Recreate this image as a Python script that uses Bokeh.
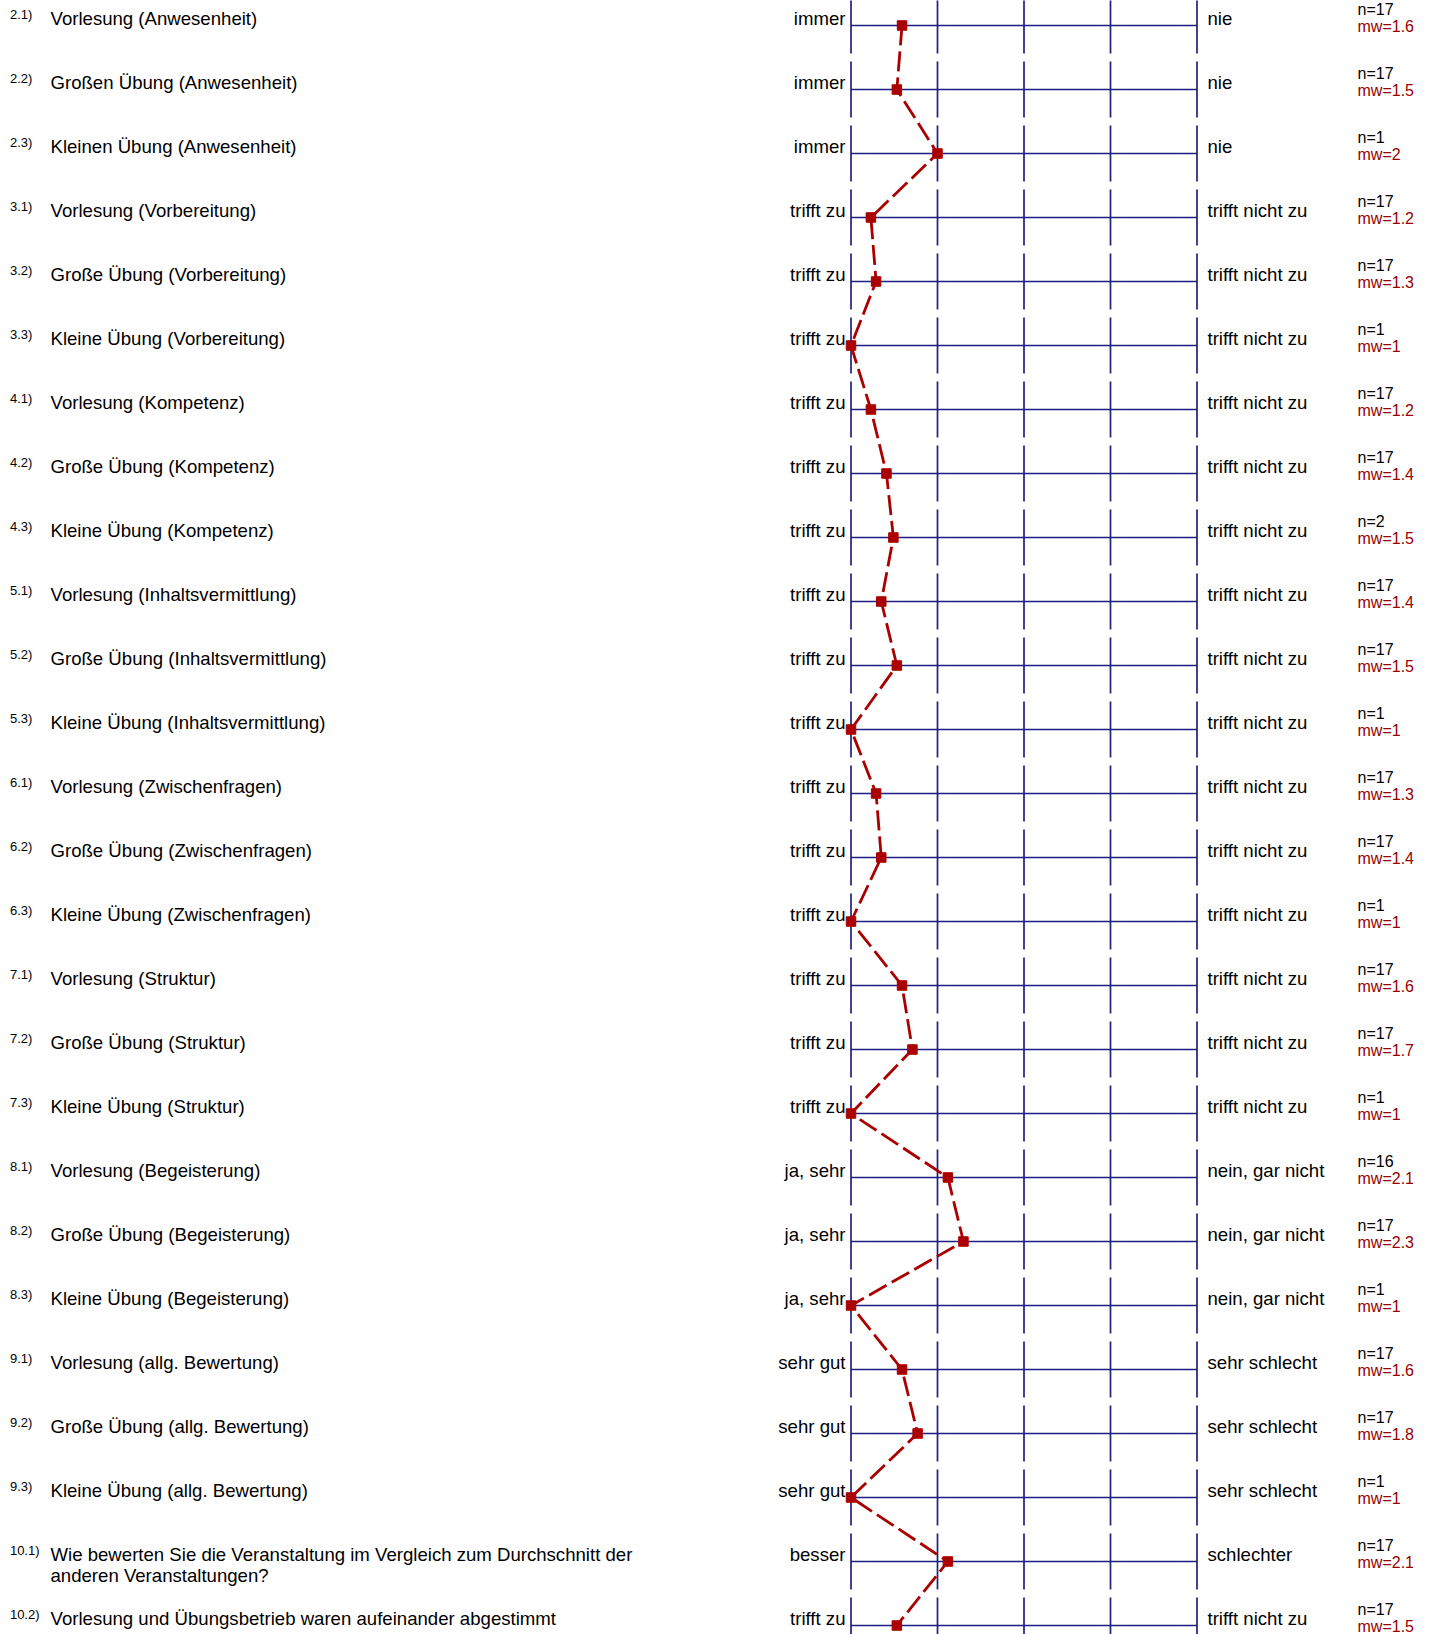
from bokeh.plotting import figure
from bokeh.models import Range1d, ColumnDataSource
from bokeh.core.properties import value
from bokeh.embed import file_html
from bokeh.resources import INLINE

numbers = ["2.1)", "2.2)", "2.3)", "3.1)", "3.2)", "3.3)", "4.1)", "4.2)", "4.3)",
           "5.1)", "5.2)", "5.3)", "6.1)", "6.2)", "6.3)", "7.1)", "7.2)", "7.3)",
           "8.1)", "8.2)", "8.3)", "9.1)", "9.2)", "9.3)", "10.1)", "10.2)"]
questions = [
    "Vorlesung (Anwesenheit)", "Großen Übung (Anwesenheit)", "Kleinen Übung (Anwesenheit)",
    "Vorlesung (Vorbereitung)", "Große Übung (Vorbereitung)", "Kleine Übung (Vorbereitung)",
    "Vorlesung (Kompetenz)", "Große Übung (Kompetenz)", "Kleine Übung (Kompetenz)",
    "Vorlesung (Inhaltsvermittlung)", "Große Übung (Inhaltsvermittlung)", "Kleine Übung (Inhaltsvermittlung)",
    "Vorlesung (Zwischenfragen)", "Große Übung (Zwischenfragen)", "Kleine Übung (Zwischenfragen)",
    "Vorlesung (Struktur)", "Große Übung (Struktur)", "Kleine Übung (Struktur)",
    "Vorlesung (Begeisterung)", "Große Übung (Begeisterung)", "Kleine Übung (Begeisterung)",
    "Vorlesung (allg. Bewertung)", "Große Übung (allg. Bewertung)", "Kleine Übung (allg. Bewertung)",
    "Wie bewerten Sie die Veranstaltung im Vergleich zum Durchschnitt der\nanderen Veranstaltungen?",
    "Vorlesung und Übungsbetrieb waren aufeinander abgestimmt",
]
left_labels = ["immer"] * 3 + ["trifft zu"] * 15 + ["ja, sehr"] * 3 + ["sehr gut"] * 3 + ["besser", "trifft zu"]
right_labels = ["nie"] * 3 + ["trifft nicht zu"] * 15 + ["nein, gar nicht"] * 3 + ["sehr schlecht"] * 3 + ["schlechter", "trifft nicht zu"]
n_values = [17, 17, 1, 17, 17, 1, 17, 17, 2, 17, 17, 1, 17, 17, 1, 17, 17, 1, 16, 17, 1, 17, 17, 1, 17, 17]
mw_labels = ["1.6", "1.5", "2", "1.2", "1.3", "1", "1.2", "1.4", "1.5", "1.4", "1.5", "1",
             "1.3", "1.4", "1", "1.6", "1.7", "1", "2.1", "2.3", "1", "1.6", "1.8", "1", "2.1", "1.5"]
means = [1.59, 1.53, 2.0, 1.23, 1.29, 1.0, 1.23, 1.41, 1.49, 1.35, 1.53, 1.0,
         1.29, 1.35, 1.0, 1.59, 1.71, 1.0, 2.12, 2.30, 1.0, 1.59, 1.77, 1.0, 2.12, 1.53]
scale_ticks = [1, 2, 3, 4, 5]

W, H = 1415, 1634
px_per_unit = 86.5
x_origin_px = 850.5          # pixel of value 1 inside the figure
row_px = 64.0
first_row_px = 25.0
x_start = 1 - x_origin_px / px_per_unit
x_end = x_start + W / px_per_unit
y_top = -first_row_px / row_px
y_bottom = y_top + H / row_px

p = figure(width=W, height=H, output_backend="svg", toolbar_location=None,
           x_range=Range1d(x_start, x_end), y_range=Range1d(y_bottom, y_top),
           min_border=0, outline_line_color=None, background_fill_color="white",
           border_fill_color="white")
p.axis.visible = False
p.grid.visible = False

rows = list(range(len(questions)))
half = 28 / row_px

GRID = "#1f1f82"
RED = "#aa0000"
FONT = value("Liberation Sans")

# vertical scale segments
vx, vy0, vy1 = [], [], []
for r in rows:
    for t in scale_ticks:
        vx.append(t); vy0.append(r - half); vy1.append(r + half)
p.segment(x0=vx, y0=vy0, x1=vx, y1=vy1, line_color=GRID, line_width=1.7)
# horizontal lines
p.segment(x0=[scale_ticks[0]] * len(rows), y0=rows, x1=[scale_ticks[-1]] * len(rows), y1=rows,
          line_color=GRID, line_width=1.7)

# profile line
p.line(means, rows, line_color=RED, line_width=2.8, line_dash="20 6")
p.scatter(means, rows, marker="square", size=9.5, fill_color=RED, line_color=RED)

src = ColumnDataSource(dict(
    row=rows, num=numbers, q=questions, left=left_labels, right=right_labels,
    n=[f"n={v}" for v in n_values], mw=[f"mw={v}" for v in mw_labels],
    lx=[scale_ticks[0]] * len(rows), rx=[scale_ticks[-1]] * len(rows),
))

num_x = x_start + 9.4 / px_per_unit
q_x = x_start + 50 / px_per_unit
stat_x = x_start + 1357 / px_per_unit

p.text(x=num_x, y="row", text="num", source=src, text_font=FONT, text_font_size="13px",
       text_baseline="middle", y_offset=-11, text_color="#000000")
p.text(x=q_x, y="row", text="q", source=src, text_font=FONT, text_font_size="18.6px",
       text_baseline="top", y_offset=-17.5, text_line_height=1.0, text_color="#000000")
p.text(x="lx", y="row", text="left", source=src, text_font=FONT, text_font_size="18.6px",
       text_baseline="middle", text_align="right", x_offset=-5.5, y_offset=-7, text_color="#000000")
p.text(x="rx", y="row", text="right", source=src, text_font=FONT, text_font_size="18.6px",
       text_baseline="middle", text_align="left", x_offset=10.5, y_offset=-7, text_color="#000000")
p.text(x=stat_x, y="row", text="n", source=src, text_font=FONT, text_font_size="16px",
       text_baseline="middle", y_offset=-16, text_color="#000000")
p.text(x=stat_x, y="row", text="mw", source=src, text_font=FONT, text_font_size="16px",
       text_baseline="middle", y_offset=1, text_color="#990000")

open("out.html", "w").write(file_html(p, INLINE))
